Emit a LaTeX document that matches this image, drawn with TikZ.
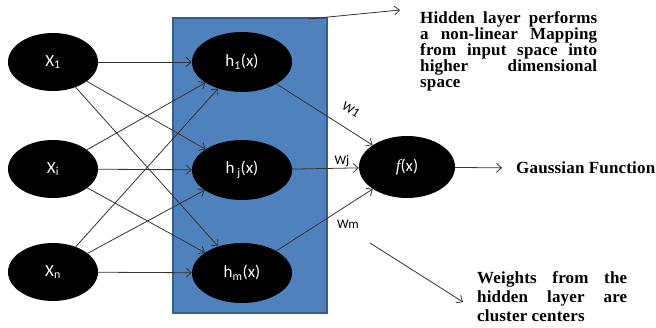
\documentclass[tikz,border=0pt]{standalone}
\usepackage{fontspec}
\setmainfont{Liberation Serif}
\newfontfamily\calfont{Carlito}
\newfontfamily\serifit{Liberation Serif}
\newfontfamily\annfont[LetterSpace=1]{Liberation Serif}
\usetikzlibrary{arrows.meta, positioning, shapes.geometric}
\definecolor{layerblue}{HTML}{4F81BD}
\definecolor{layeredge}{HTML}{385D8A}
\newcommand{\fullline}[2]{\makebox[#1][s]{#2}}

\begin{document}
\begin{tikzpicture}[
  x=1pt, y=-1pt,
  neuron/.style={ellipse, fill=black, text=white, inner sep=0pt,
                 minimum width=90pt, minimum height=58pt,
                 font=\calfont\fontsize{17}{20}\selectfont},
  hidneuron/.style={neuron, minimum width=100pt, minimum height=60pt},
  layer/.style={rectangle, fill=layerblue, draw=layeredge, line width=1.2pt,
                minimum width=154pt, minimum height=295pt, inner sep=0pt},
  wlabel/.style={font=\calfont\fontsize{13}{15}\selectfont, inner sep=0pt},
  annot/.style={font=\annfont\bfseries\fontsize{17}{16}\selectfont,
                align=left, inner sep=0pt},
  arr/.style={-{Straight Barb[length=5pt, width=9pt]}, draw=black!80, line width=0.8pt}
]
  \useasboundingbox (0,0) rectangle (656,327);

  % Hidden layer (blue box)
  \node[layer] (hidden) at (250,165.5) {};

  % Input nodes (left column)
  \node[neuron] (x1) at (53,62)  {X\textsubscript{1}};
  \node[neuron] (xi) at (53,169) {X\textsubscript{i}};
  \node[neuron] (xn) at (53,272) {X\textsubscript{n}};

  % Hidden nodes (inside the box)
  \node[hidneuron] (h1) at (242,62)  {h\textsubscript{1}(x)};
  \node[hidneuron] (hj) at (242,170) {h\,\textsubscript{j}(x)};
  \node[hidneuron] (hm) at (242,273) {h\textsubscript{m}(x)};

  % Output node
  \node[neuron, minimum width=96pt, minimum height=62pt] (fx) at (407,167)
       {{\serifit\itshape f}(x)};

  % Notes (right side)
  \node[annot, anchor=north west] (hidtext) at (420,11)
       {\fullline{177pt}{Hidden layer performs}\\
        \fullline{177pt}{a non-linear Mapping}\\
        \fullline{177pt}{from input space into}\\
        \fullline{177pt}{higher dimensional}\\
        space};
  \node[annot, anchor=west] (gauss) at (516,168) {Gaussian Function};
  \node[annot, anchor=north west, font=\annfont\bfseries\fontsize{17}{19}\selectfont]
       (wtext) at (477,271)
       {\fullline{150pt}{Weights from the}\\
        \fullline{150pt}{hidden layer are}\\
        cluster centers};

  % Free ends of the note arrows
  \coordinate (boxcorner) at (308,19);
  \coordinate (hidtip)    at (400,10);
  \coordinate (wstart)    at (370,243);
  \coordinate (wtip)      at (463,302);

  % Input -> hidden
  \draw[arr] (x1) -- (h1);
  \draw[arr] (x1) -- (hj);
  \draw[arr] (x1) -- (hm);
  \draw[arr] (xi) -- (h1);
  \draw[arr] (xi) -- (hj);
  \draw[arr] (xi) -- (hm);
  \draw[arr] (xn) -- (h1);
  \draw[arr] (xn) -- (hj);
  \draw[arr] (xn) -- (hm);

  % Hidden -> output
  \draw[arr] (h1) -- (fx);
  \draw[arr] (hj) -- (fx);
  \draw[arr] (hm) -- (fx);

  % Weight labels
  \node[wlabel, rotate=-32] (w1) at (351,110) {W1};
  \node[wlabel] (wj) at (342,161) {Wj};
  \node[wlabel] (wm) at (348,224) {Wm};

  % Note arrows
  \draw[arr] (fx) -- (gauss.west) [shorten >=14pt];
  \draw[arr] (boxcorner) -- (hidtip);
  \draw[arr] (wstart) -- (wtip);
\end{tikzpicture}
\end{document}
